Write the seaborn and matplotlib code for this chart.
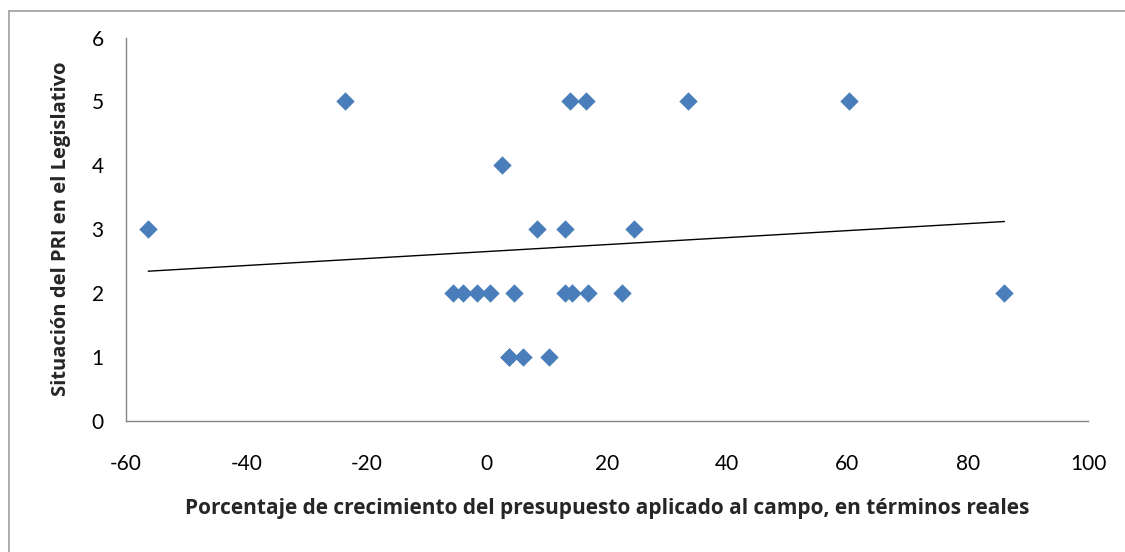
import matplotlib
matplotlib.use("Agg")
import matplotlib.pyplot as plt
from matplotlib.lines import Line2D
import seaborn as sns
import pandas as pd

# Budget growth (% real terms) applied to agriculture, by year
crecimiento = [-56.3, -23.6, 2.5, 8.4, 13.0, 24.5, 13.8, 16.5, 33.5, 60.3,
               -5.6, -3.9, -1.6, 0.5, 4.5, 13.0, 14.1, 16.9, 22.5, 86.1,
               3.7, 3.7, 6.1, 10.4]
# PRI standing in the legislature (ordinal scale)
situacion_pri = [3, 5, 4, 3, 3, 3, 5, 5, 5, 5,
                 2, 2, 2, 2, 2, 2, 2, 2, 2, 2,
                 1, 1, 1, 1]

x_ticks = [-60, -40, -20, 0, 20, 40, 60, 80, 100]
y_ticks = [0, 1, 2, 3, 4, 5, 6]

df = pd.DataFrame({"x": crecimiento, "y": situacion_pri})

sns.set_theme(style="white")
plt.rcParams["font.family"] = ["Lato", "DejaVu Sans"]

W, H = 1125, 552
fig = plt.figure(figsize=(W / 100, H / 100), dpi=100)
fig.patch.set_facecolor("white")
ax = fig.add_axes([126 / W, 1 - 420.7 / H, (1088 - 126) / W, (420.7 - 37.5) / H])

sns.scatterplot(data=df, x="x", y="y", marker="D", s=88, color="#4A7EBB",
                linewidth=0, ax=ax, zorder=3)
sns.regplot(data=df, x="x", y="y", scatter=False, ci=None, truncate=True,
            line_kws=dict(color="black", linewidth=1.0), ax=ax)

ax.set_xlim(-60, 100)
ax.set_ylim(0, 6)
ax.set_xticks(x_ticks)
ax.set_yticks(y_ticks)
ax.set_xticklabels([str(v) for v in x_ticks])
ax.set_yticklabels([str(v) for v in y_ticks])
ax.tick_params(axis="x", length=0, pad=24, labelsize=15, colors="#000000")
ax.tick_params(axis="y", length=0, pad=16, labelsize=15, colors="#000000")

for side in ("top", "right"):
    ax.spines[side].set_visible(False)
for side in ("left", "bottom"):
    ax.spines[side].set_color("#868686")
    ax.spines[side].set_linewidth(1.0)
ax.grid(False)

label_font = ["Open Sans", "DejaVu Sans"]
ax.set_xlabel("Porcentaje de crecimiento del presupuesto aplicado al campo, en términos reales",
              fontsize=15, fontweight="bold", family=label_font, labelpad=17)
ax.set_ylabel("Situación del PRI en el Legislativo",
              fontsize=14.5, fontweight="bold", family=label_font, labelpad=15)

# Chart area border (left and top edges)
fig.add_artist(Line2D([8.5 / W, 8.5 / W], [0, 1 - 11 / H], transform=fig.transFigure,
                      color="#A6A6A6", linewidth=1.3))
fig.add_artist(Line2D([8.5 / W, 1], [1 - 11 / H, 1 - 11 / H], transform=fig.transFigure,
                      color="#A6A6A6", linewidth=1.3))

fig.savefig("out.png", dpi=100, facecolor="white")
